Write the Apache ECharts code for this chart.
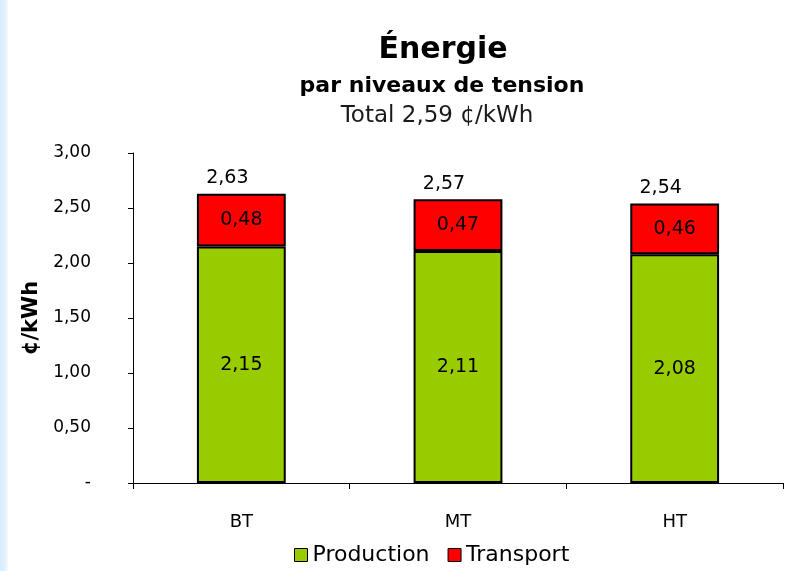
<!DOCTYPE html>
<html>
<head>
<meta charset="utf-8">
<script src="https://cdn.jsdelivr.net/npm/echarts@6/dist/echarts.min.js"></script>
<style>
  html, body { margin: 0; padding: 0; background: #fff; }
  #chart {
    width: 803px;
    height: 571px;
    background: linear-gradient(to right, #d8ebfb 0, #eaf4fd 7px, #ffffff 8px);
  }
</style>
</head>
<body>
<div id="chart"></div>
<script>
const categories = ["BT", "MT", "HT"];
const production = [2.15, 2.11, 2.08];
const transport = [0.48, 0.47, 0.46];
const totals = [2.63, 2.57, 2.54];

const fmt = (v) => v.toFixed(2).replace(".", ",");
const chart = echarts.init(document.getElementById("chart"), null, { renderer: "canvas" });

chart.setOption({
  animation: false,
  backgroundColor: "transparent",
  title: [
    {
      text: "Énergie",
      left: 438, top: 30, textAlign: "center",
      textStyle: { fontFamily: "DejaVu Sans", fontSize: 30, fontWeight: "bold", color: "#000" }
    },
    {
      text: "par niveaux de tension",
      left: 437, top: 70, textAlign: "center",
      textStyle: { fontFamily: "DejaVu Sans", fontSize: 22, fontWeight: "bold", color: "#000" }
    },
    {
      text: "Total 2,59 ¢/kWh",
      left: 432, top: 100, textAlign: "center",
      textStyle: { fontFamily: "DejaVu Sans", fontSize: 23, fontWeight: "normal", color: "#1a1a1a" }
    }
  ],
  legend: {
    top: 539,
    left: 289,
    icon: "rect",
    itemWidth: 13,
    itemHeight: 13,
    itemGap: 18,
    textStyle: { fontFamily: "DejaVu Sans", fontSize: 22, color: "#000" },
    data: [
      { name: "Production", itemStyle: { borderColor: "#000", borderWidth: 1 } },
      { name: "Transport", itemStyle: { borderColor: "#000", borderWidth: 1 } }
    ]
  },
  grid: { left: 133, right: 20, top: 153, bottom: 88, containLabel: false },
  xAxis: {
    type: "category",
    data: categories,
    axisLine: { lineStyle: { color: "#000", width: 1 } },
    axisTick: { show: true, length: 6, lineStyle: { color: "#000" } },
    axisLabel: { fontFamily: "DejaVu Sans", fontSize: 18, color: "#000", margin: 30 }
  },
  yAxis: {
    type: "value",
    min: 0,
    max: 3,
    interval: 0.5,
    name: "¢/kWh",
    nameLocation: "middle",
    nameGap: 85,
    nameTextStyle: { fontFamily: "DejaVu Sans", fontSize: 21, fontWeight: "bold", color: "#000" },
    axisLine: { show: true, lineStyle: { color: "#000", width: 1 } },
    axisTick: { show: true, length: 5, lineStyle: { color: "#000" } },
    splitLine: { show: false },
    axisLabel: {
      fontFamily: "DejaVu Sans", fontSize: 17, color: "#000", margin: 42,
      formatter: (v) => (v === 0 ? "-" : fmt(v))
    }
  },
  series: [
    {
      name: "Production",
      type: "bar",
      stack: "total",
      barWidth: "41%",
      data: production,
      itemStyle: { color: "#99cc00", borderColor: "#000", borderWidth: 2 },
      label: {
        show: true, position: "inside",
        fontFamily: "DejaVu Sans", fontSize: 19, color: "#000",
        formatter: (p) => fmt(p.value)
      }
    },
    {
      name: "Transport",
      type: "bar",
      stack: "total",
      barWidth: "41%",
      data: transport,
      itemStyle: { color: "#ff0000", borderColor: "#000", borderWidth: 2 },
      label: {
        show: true, position: "inside",
        fontFamily: "DejaVu Sans", fontSize: 19, color: "#000",
        formatter: (p) => fmt(p.value)
      }
    },
    {
      name: "Total",
      type: "bar",
      stack: "total",
      barWidth: "41%",
      data: totals.map(() => 0),
      itemStyle: { color: "transparent" },
      label: {
        show: true, position: "top", distance: 6, offset: [-14, 0],
        fontFamily: "DejaVu Sans", fontSize: 19, color: "#000",
        formatter: (p) => fmt(totals[p.dataIndex])
      },
      tooltip: { show: false }
    }
  ]
});
</script>
</body>
</html>
